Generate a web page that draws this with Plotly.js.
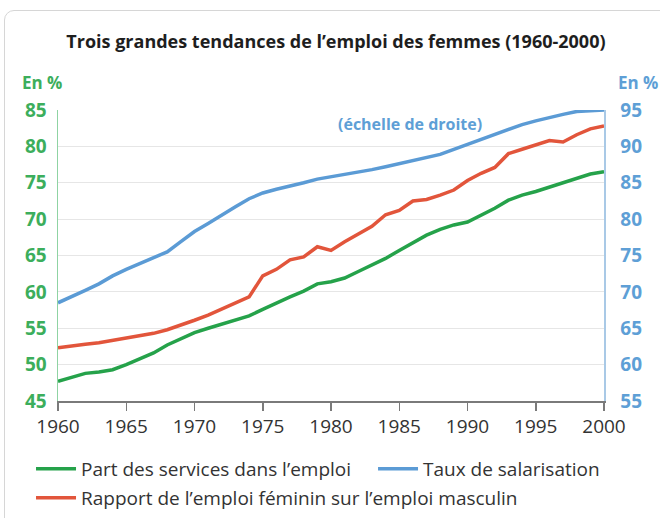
<!DOCTYPE html>
<html><head><meta charset="utf-8">
<script src="https://cdn.plot.ly/plotly-3.0.1.min.js"></script>
<style>
html,body{margin:0;padding:0;width:660px;height:518px;overflow:hidden;background:#fff;}
#frame{position:absolute;left:4px;top:10px;width:720px;height:560px;border:1px solid #d6d6d6;border-radius:10px;}
#chart{position:absolute;left:0;top:0;width:660px;height:518px;}
</style></head>
<body>
<div id="frame"></div>
<div id="chart"></div>
<script>
const years = [];
for (let y = 1960; y <= 2000; y++) years.push(y);

const services = [47.7,48.2,48.8,49.0,49.3,50.0,50.8,51.6,52.7,53.6,54.4,55.0,55.6,56.2,56.7,57.6,58.5,59.3,60.1,61.1,61.4,61.9,62.8,63.7,64.6,65.7,66.7,67.8,68.6,69.2,69.6,70.5,71.5,72.6,73.3,73.8,74.4,75.0,75.6,76.2,76.5];
const rapport = [52.3,52.6,52.8,53.0,53.3,53.7,53.9,54.3,54.8,55.4,56.1,56.8,57.6,58.4,59.3,62.2,63.1,64.4,64.8,66.2,65.7,66.9,68.0,69.0,70.6,71.2,72.5,72.7,73.3,74.0,75.3,76.3,77.1,79.0,79.6,80.2,80.8,80.6,81.6,82.4,82.8];
const salarisation = [68.5,69.3,70.2,71.1,72.2,73.1,73.9,74.8,75.5,76.9,78.3,79.4,80.6,81.7,82.8,83.6,84.1,84.5,85.0,85.5,85.8,86.1,86.5,86.8,87.2,87.6,88.0,88.4,88.9,89.6,90.3,91.0,91.7,92.4,93.0,93.5,94.0,94.4,94.8,94.95,95.0];

const names = ["Part des services dans l’emploi","Taux de salarisation","Rapport de l’emploi féminin sur l’emploi masculin"];
const leftTicks = [45,50,55,60,65,70,75,80,85];
const rightTicks = [55,60,65,70,75,80,85,90,95];
const xTicks = [1960,1965,1970,1975,1980,1985,1990,1995,2000];

const GREEN = "#25a24a", BLUE = "#5b9bd5", RED = "#e2553b";
const FONT = "'Open Sans', Lato, sans-serif";

const traces = [
  {x: years, y: services, name: names[0], type: "scatter", mode: "lines", line: {color: GREEN, width: 3.5}, yaxis: "y", legend: "legend"},
  {x: years, y: salarisation, name: names[1], type: "scatter", mode: "lines", line: {color: BLUE, width: 3.5}, yaxis: "y2", legend: "legend2"},
  {x: years, y: rapport, name: names[2], type: "scatter", mode: "lines", line: {color: RED, width: 3.5}, yaxis: "y", legend: "legend3"}
];

const legendBase = {orientation: "h", xanchor: "left", yanchor: "middle", xref: "container", yref: "container", itemwidth: 40,
  font: {family: FONT, size: 19, color: "#333"}, bgcolor: "rgba(0,0,0,0)"};

const layout = {
  width: 660, height: 518,
  margin: {l: 58, r: 56, t: 110, b: 117},
  paper_bgcolor: "rgba(0,0,0,0)", plot_bgcolor: "#fff",
  font: {family: FONT, color: "#333"},
  title: {text: "Trois grandes tendances de l’emploi des femmes (1960-2000)", font: {family: FONT, size: 18, color: "#1e1e1e", weight: "bold"}, x: 0.509, xanchor: "center", y: 0.92, yanchor: "middle"},
  xaxis: {range: [1960, 2000], tickvals: xTicks, ticktext: xTicks.map(String), showgrid: false, zeroline: false, automargin: false,
    showline: true, linecolor: "#7a7a7a", linewidth: 1.5, ticks: "outside", ticklen: 8, tickwidth: 1.5, tickcolor: "#7a7a7a",
    tickfont: {family: FONT, size: 19, color: "#333"}},
  yaxis: {range: [45, 85], tickvals: leftTicks, ticktext: leftTicks.map(String), showgrid: true, gridcolor: "#e6e6e6", gridwidth: 1,
    zeroline: false, showline: true, linecolor: "#8fd3a3", linewidth: 1.5, ticks: "", ticklabelstandoff: 6, automargin: false,
    tickfont: {family: FONT, size: 19, color: "#3cae5c", weight: "bold"}},
  yaxis2: {range: [55, 95], tickvals: rightTicks, ticktext: rightTicks.map(String), overlaying: "y", side: "right", showgrid: false,
    zeroline: false, showline: true, linecolor: "#a9c9e6", linewidth: 1.5, ticks: "", ticklabelstandoff: 11, automargin: false,
    tickfont: {family: FONT, size: 19, color: "#5e9fd6", weight: "bold"}},
  showlegend: true,
  legend: Object.assign({}, legendBase, {x: 0.047, y: 0.0946}),
  legend2: Object.assign({}, legendBase, {x: 0.5652, y: 0.0946}),
  legend3: Object.assign({}, legendBase, {x: 0.047, y: 0.0386}),
  annotations: [
    {text: "<b>En %</b>", xref: "paper", yref: "paper", x: -0.07, y: 1.0962, xanchor: "left", yanchor: "middle", showarrow: false, font: {family: FONT, size: 17, color: "#3cae5c"}},
    {text: "<b>En %</b>", xref: "paper", yref: "paper", x: 1.0225, y: 1.0962, xanchor: "left", yanchor: "middle", showarrow: false, font: {family: FONT, size: 17, color: "#5e9fd6"}},
    {text: "<b>(échelle de droite)</b>", xref: "paper", yref: "paper", x: 0.645, y: 0.952, xanchor: "center", yanchor: "middle", showarrow: false, font: {family: FONT, size: 16, color: "#5e9fd6"}}
  ]
};

Plotly.newPlot("chart", traces, layout, {displayModeBar: false, staticPlot: true});
</script>
</body></html>
